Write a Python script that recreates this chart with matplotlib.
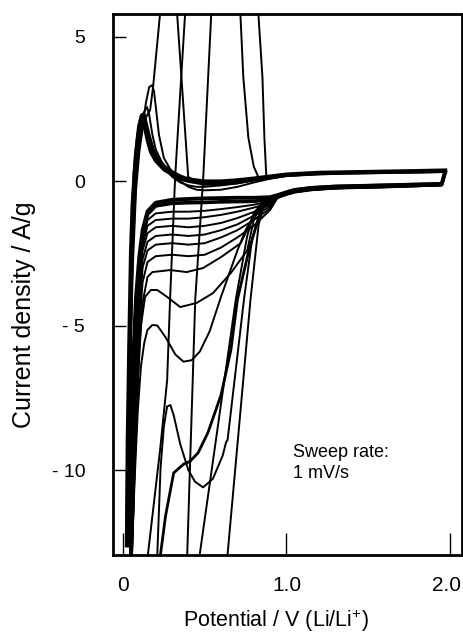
import matplotlib
matplotlib.use("Agg")
import matplotlib.pyplot as plt
from matplotlib.transforms import ScaledTranslation

# cathodic sweeps (2.0 V -> 0 V), potential in V, current density in A/g
k1_v = [1.97, 1.95, 1.6, 1.3, 1.15, 1.05, 1.0, 0.95, 0.9, 0.86, 0.83, 0.78, 0.64, 0.62]
k1_i = [0.3, -0.15, -0.22, -0.26, -0.32, -0.4, -0.48, -0.58, -0.7, -0.9, -1.5, -4.1, -12.9, -14.0]

k2_v = [1.97, 1.95, 1.6, 1.3, 1.15, 1.05, 1.0, 0.95, 0.9, 0.85, 0.8, 0.76, 0.69, 0.58, 0.47, 0.45]
k2_i = [0.3, -0.14, -0.2, -0.25, -0.3, -0.38, -0.46, -0.56, -0.65, -0.78, -1.1, -1.9, -4.1, -8.5, -12.9, -14.0]

k3_v = [1.97, 1.95, 1.6, 1.3, 1.15, 1.05, 1.0, 0.95, 0.93, 0.85, 0.77, 0.7, 0.66, 0.6, 0.52,
        0.46, 0.41, 0.37, 0.31, 0.26, 0.23, 0.21]
k3_i = [0.3, -0.14, -0.2, -0.24, -0.3, -0.37, -0.45, -0.55, -0.59, -0.9, -2.4, -4.1, -5.85, -7.4, -8.7,
        -9.4, -9.7, -9.8, -10.1, -11.6, -12.9, -14.0]

k4_v = [1.97, 1.95, 1.6, 1.3, 1.15, 1.05, 1.0, 0.95, 0.9, 0.85, 0.79, 0.74, 0.64, 0.63, 0.61, 0.55,
        0.49, 0.44, 0.4, 0.35, 0.31, 0.29, 0.27, 0.25, 0.23, 0.21, 0.2]
k4_i = [0.3, -0.15, -0.21, -0.25, -0.3, -0.38, -0.46, -0.57, -0.66, -0.85, -2.0, -4.1, -8.95, -9.05, -9.5, -10.3,
        -10.6, -10.4, -10.0, -9.1, -8.1, -7.75, -7.8, -8.5, -9.9, -12.9, -14.0]

k5_v = [1.97, 1.95, 1.6, 1.3, 1.15, 1.05, 1.0, 0.95, 0.9, 0.85, 0.8, 0.75, 0.7, 0.65, 0.6, 0.53, 0.47,
        0.42, 0.37, 0.32, 0.26, 0.21, 0.18, 0.15, 0.13, 0.11, 0.09, 0.07, 0.055, 0.045]
k5_i = [0.3, -0.13, -0.2, -0.24, -0.29, -0.36, -0.44, -0.55, -0.63, -0.8, -1.2, -1.7, -2.4, -3.2, -4.0, -5.2, -5.9,
        -6.2, -6.25, -6.0, -5.4, -5.0, -4.98, -5.15, -5.6, -6.4, -8.0, -10.5, -12.9, -14.0]

k6_v = [1.97, 1.95, 1.6, 1.3, 1.15, 1.05, 1.0, 0.95, 0.9, 0.85, 0.8, 0.76, 0.66, 0.55, 0.45, 0.35, 0.27,
        0.21, 0.17, 0.135, 0.11, 0.09, 0.07, 0.055, 0.045]
k6_i = [0.3, -0.13, -0.19, -0.23, -0.28, -0.35, -0.43, -0.54, -0.62, -0.78, -1.35, -2.4, -3.18, -3.88, -4.22, -4.36, -4.01,
        -3.77, -3.77, -4.01, -5.0, -7.0, -10.0, -12.9, -14.0]

k7_v = [1.97, 1.95, 1.6, 1.3, 1.15, 1.05, 1.0, 0.95, 0.9, 0.85, 0.8, 0.72, 0.6, 0.49, 0.39, 0.29, 0.18,
        0.15, 0.12, 0.1, 0.08, 0.06, 0.05]
k7_i = [0.3, -0.12, -0.19, -0.23, -0.28, -0.35, -0.43, -0.54, -0.62, -0.75, -1.2, -2.15, -2.63, -3.01, -3.15, -3.08, -3.15,
        -3.32, -4.2, -5.8, -8.5, -12.0, -14.0]

late_v = [1.97, 1.95, 1.6, 1.3, 1.15, 1.05, 1.0, 0.95, 0.9, 0.8, 0.7, 0.6, 0.5, 0.4, 0.3, 0.2, 0.15,
          0.12, 0.1, 0.08, 0.06, 0.045, 0.03]
k8_i = [0.3, -0.12, -0.18, -0.22, -0.27, -0.34, -0.42, -0.53, -1.0, -1.55, -1.95, -2.3, -2.55, -2.6, -2.55, -2.6, -2.8,
        -3.5, -5.0, -8.0, -12.0, -14.0, -15.0]
k9_i = [0.3, -0.12, -0.18, -0.22, -0.27, -0.34, -0.42, -0.53, -0.95, -1.35, -1.7, -1.95, -2.15, -2.2, -2.15, -2.2, -2.4,
        -3.0, -4.5, -7.5, -11.5, -14.0, -15.0]
k10_i = [0.3, -0.11, -0.17, -0.21, -0.26, -0.33, -0.41, -0.52, -0.88, -1.2, -1.5, -1.7, -1.85, -1.9, -1.85, -1.9, -2.1,
         -2.7, -4.0, -7.0, -11.0, -13.5, -15.0]
k11_i = [0.3, -0.11, -0.17, -0.21, -0.26, -0.33, -0.41, -0.52, -0.82, -1.07, -1.28, -1.45, -1.55, -1.6, -1.55, -1.6, -1.8,
         -2.4, -3.6, -6.5, -10.5, -13.0, -15.0]
k12_i = [0.3, -0.1, -0.16, -0.2, -0.25, -0.32, -0.4, -0.51, -0.76, -0.92, -1.06, -1.17, -1.25, -1.3, -1.3, -1.35, -1.55,
         -2.2, -3.3, -6.0, -10.0, -12.8, -15.0]
k13_i = [0.3, -0.1, -0.16, -0.2, -0.25, -0.32, -0.4, -0.5, -0.7, -0.82, -0.9, -0.97, -1.03, -1.06, -1.06, -1.12, -1.35,
         -2.0, -3.0, -5.5, -9.5, -12.5, -15.0]
k14_i = [0.3, -0.1, -0.15, -0.19, -0.24, -0.31, -0.39, -0.5, -0.64, -0.7, -0.71, -0.72, -0.74, -0.75, -0.77, -0.86, -1.15,
         -1.9, -2.9, -4.3, -6.9, -9.6, -12.6]
k15_i = [0.3, -0.1, -0.15, -0.19, -0.24, -0.31, -0.39, -0.48, -0.56, -0.58, -0.58, -0.59, -0.6, -0.62, -0.65, -0.75, -1.05,
         -1.7, -2.6, -4.0, -6.5, -9.2, -12.6]

# anodic sweeps (0 V -> 2.0 V)
a1_v = [0.025, 0.03, 0.04, 0.05, 0.06, 0.08, 0.1, 0.115, 0.125, 0.14, 0.155, 0.18, 0.2, 0.25, 0.3, 0.35,
        0.4, 0.5, 0.6, 0.7, 0.8, 0.9, 1.0, 1.2, 1.4, 1.6, 1.8, 1.97]
a1_i = [-12.6, -9.0, -5.5, -2.5, -0.8, 0.9, 1.9, 2.25, 2.3, 1.95, 1.6, 1.1, 0.85, 0.5, 0.3, 0.15,
        0.05, -0.02, -0.02, 0.02, 0.08, 0.15, 0.22, 0.28, 0.3, 0.32, 0.34, 0.36]

a2_v = [0.025, 0.035, 0.05, 0.07, 0.09, 0.11, 0.13, 0.147, 0.16, 0.18, 0.2, 0.25, 0.3, 0.35, 0.4, 0.45,
        0.5, 0.6, 0.7, 0.8, 0.9, 1.0, 1.2, 1.4, 1.6, 1.8, 1.97]
a2_i = [-12.6, -8.0, -3.5, -0.5, 1.0, 1.9, 2.4, 2.56, 2.3, 1.6, 1.1, 0.5, 0.15, -0.05, -0.15, -0.2,
        -0.2, -0.15, -0.08, 0.02, 0.12, 0.2, 0.26, 0.3, 0.32, 0.34, 0.36]

a3_v = [0.025, 0.04, 0.06, 0.08, 0.1, 0.12, 0.14, 0.16, 0.178, 0.19, 0.2, 0.22, 0.25, 0.3, 0.35, 0.4,
        0.45, 0.5, 0.6, 0.7, 0.8, 0.9, 1.0, 1.2, 1.4, 1.6, 1.8, 1.97]
a3_i = [-12.6, -7.0, -2.5, 0.0, 1.2, 1.9, 2.7, 3.25, 3.32, 3.1, 2.6, 1.6, 0.8, 0.3, 0.0, -0.2,
        -0.3, -0.32, -0.3, -0.2, -0.05, 0.08, 0.18, 0.26, 0.3, 0.32, 0.34, 0.37]

a4_v = [0.025, 0.04, 0.06, 0.08, 0.1, 0.12, 0.14, 0.166, 0.184, 0.227, 0.28, 0.331, 0.399, 0.45, 0.5,
        0.6, 0.7, 0.8, 0.9, 1.0, 1.2, 1.4, 1.6, 1.8, 1.97]
a4_i = [-12.6, -7.5, -3.0, -0.3, 1.0, 1.8, 2.2, 2.46, 3.25, 5.8, 9.0, 5.8, 0.14, 0.0, -0.05,
        -0.08, -0.05, 0.05, 0.14, 0.2, 0.27, 0.31, 0.33, 0.35, 0.38]

a5_v = [0.14, 0.153, 0.227, 0.27, 0.288, 0.319, 0.38, 0.55, 0.718, 0.736, 0.767, 0.8, 0.828, 0.9, 1.0,
        1.2, 1.4, 1.6, 1.8, 1.97]
a5_i = [-15.0, -12.9, -9.3, -6.9, -4.1, 0.14, 5.8, 12.0, 5.8, 3.6, 1.5, 0.5, 0.14, 0.15, 0.2,
        0.28, 0.31, 0.33, 0.35, 0.38]

a6_v = [0.38, 0.393, 0.442, 0.491, 0.54, 0.68, 0.828, 0.853, 0.865, 0.877, 0.95, 1.0, 1.2, 1.4, 1.6, 1.8, 1.97]
a6_i = [-15.0, -12.9, -4.1, 0.14, 5.8, 12.0, 5.8, 3.6, 1.5, 0.14, 0.18, 0.22, 0.28, 0.31, 0.33, 0.35, 0.38]

a7_v = [0.025, 0.03, 0.04, 0.05, 0.06, 0.07, 0.09, 0.105, 0.12, 0.135, 0.15, 0.17, 0.2, 0.25, 0.3, 0.35,
        0.4, 0.5, 0.6, 0.7, 0.8, 0.9, 1.0, 1.2, 1.4, 1.6, 1.8, 1.97]
a7_i = [-12.6, -10.0, -6.5, -3.5, -1.2, 0.3, 1.5, 2.0, 2.1, 1.8, 1.4, 1.0, 0.7, 0.4, 0.22, 0.08,
        0.0, -0.1, -0.1, -0.05, 0.05, 0.12, 0.2, 0.26, 0.29, 0.31, 0.32, 0.34]

y_ticks = [-10, -5, 0, 5]
y_ticklabels = ["- 10", "- 5", "0", "5"]
x_ticks = [0, 1, 2]
x_ticklabels = ["0", "1.0", "2.0"]

plt.rcParams["font.family"] = "Liberation Sans"
plt.rcParams["mathtext.fontset"] = "custom"
plt.rcParams["mathtext.rm"] = "Liberation Sans"

fig = plt.figure(figsize=(4.63, 6.34), dpi=100)
ax = fig.add_axes([0.2441, 0.1246, 0.7538, 0.8533])

thin = [(k1_v, k1_i), (k2_v, k2_i), (k4_v, k4_i), (k5_v, k5_i), (k6_v, k6_i), (k7_v, k7_i),
        (late_v, k8_i), (late_v, k9_i), (late_v, k10_i), (late_v, k11_i), (late_v, k12_i),
        (late_v, k13_i), (a2_v, a2_i), (a3_v, a3_i), (a4_v, a4_i), (a5_v, a5_i), (a6_v, a6_i)]
for v, i in thin:
    ax.plot(v, i, color="black", lw=1.4)

ax.plot(k3_v, k3_i, color="black", lw=2.0)
ax.plot(late_v, k14_i, color="black", lw=2.6)
ax.plot(late_v, k15_i, color="black", lw=2.8)
ax.plot(a1_v, a1_i, color="black", lw=3.2)
ax.plot(a7_v, a7_i, color="black", lw=2.6)

ax.set_xlim(-0.061, 2.074)
ax.set_ylim(-12.94, 5.78)
ax.set_yticks(y_ticks, labels=y_ticklabels)
ax.set_xticks(x_ticks, labels=x_ticklabels)
ax.tick_params(axis="y", direction="in", length=9, width=1, pad=20, labelsize=14)
ax.tick_params(axis="x", direction="in", length=16, width=1, pad=15, labelsize=15)
for s in ax.spines.values():
    s.set_linewidth(2)

# "2.0" sits flush against the right edge, as in the scan
last = ax.get_xticklabels()[-1]
last.set_horizontalalignment("right")
last.set_transform(last.get_transform() + ScaledTranslation(0.11, 0, fig.dpi_scale_trans))

ax.set_ylabel("Current density / A/g", fontsize=18, va="center")
ax.yaxis.set_label_coords(-0.255, 0.444)
ax.set_xlabel(r"Potential / V (Li/Li$^{+}$)", fontsize=15.5, va="center")
ax.xaxis.set_label_coords(0.466, -0.121)

ax.text(1.037, -9.1, "Sweep rate:\n1 mV/s", fontsize=13, va="top", ha="left", linespacing=1.3)

fig.savefig("out.png", dpi=100)
